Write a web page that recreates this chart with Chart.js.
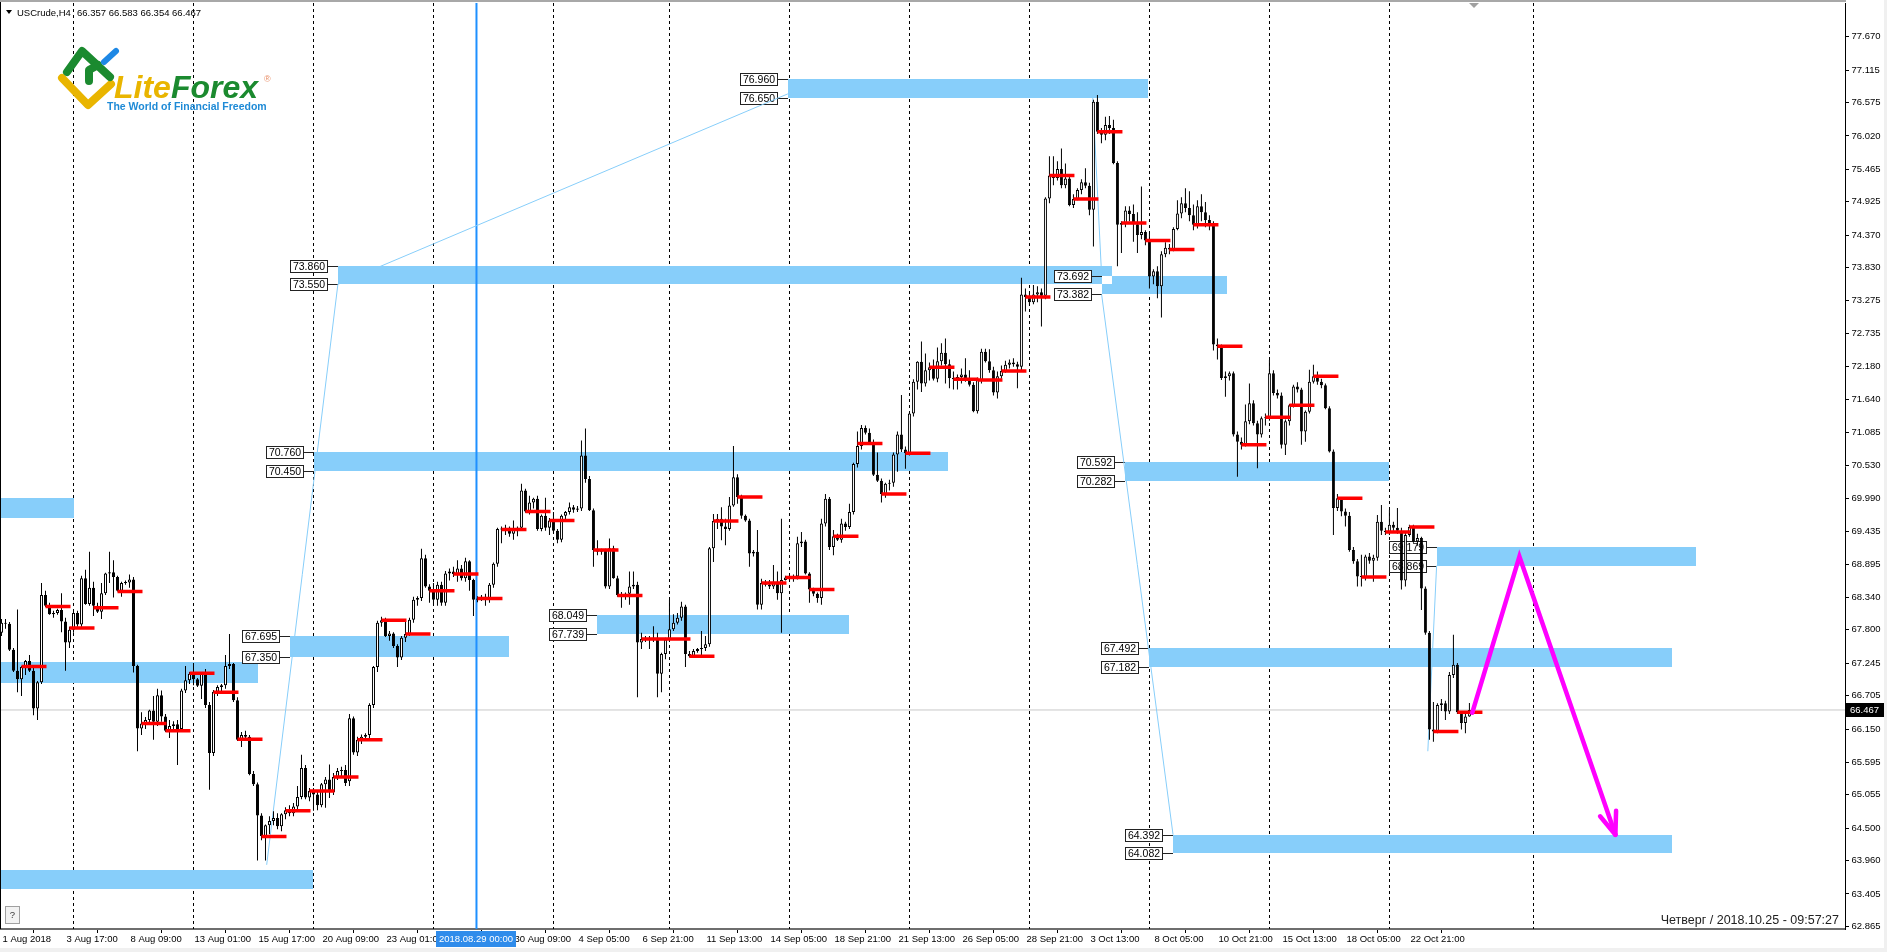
<!DOCTYPE html>
<html>
<head>
<meta charset="utf-8">
<title>USCrude,H4</title>
<script src="https://cdn.jsdelivr.net/npm/chart.js@4.4.1/dist/chart.umd.min.js"></script>
<style>
  html, body { margin: 0; padding: 0; background: #fff; overflow: hidden; }
  canvas { display: block; }
</style>
</head>
<body>
<canvas id="chart" width="1887" height="952"></canvas>
<script>
'use strict';

// H4 candles [open, high, low, close], bar 0 = 1 Aug 2018 01:00
var ohlc = [
  // 1 Aug - 3 Aug
  [67.75, 67.98, 67.70, 67.92], [67.92, 67.98, 67.82, 67.90], [67.90, 67.93, 67.45, 67.47], [67.47, 67.50, 67.10, 67.12], [67.12, 68.14, 66.76, 66.98], [66.98, 67.20, 66.70, 67.18],
  [67.18, 67.30, 67.05, 67.28], [67.28, 67.38, 67.10, 67.12], [67.12, 67.20, 66.38, 66.49], [66.49, 66.95, 66.30, 66.93], [66.93, 68.58, 66.90, 68.38], [68.38, 68.45, 68.18, 68.20],
  [68.20, 68.25, 68.05, 68.06], [68.06, 68.12, 68.00, 68.08], [68.08, 68.15, 68.05, 68.13], [68.13, 68.41, 67.76, 67.94], [67.94, 68.00, 67.12, 67.59], [67.59, 67.85, 67.50, 67.80],
  // 6 Aug - 10 Aug
  [67.80, 68.10, 67.75, 68.08], [68.08, 68.12, 67.85, 67.89], [67.89, 68.70, 67.85, 68.66], [68.66, 68.80, 68.22, 68.23], [68.23, 69.10, 68.20, 68.50], [68.50, 68.60, 68.03, 68.20],
  [68.20, 68.25, 68.08, 68.10], [68.10, 68.58, 67.98, 68.41], [68.41, 68.75, 68.38, 68.74], [68.74, 69.10, 68.58, 68.76], [68.76, 68.96, 68.34, 68.68], [68.68, 68.70, 68.44, 68.45],
  [68.45, 68.60, 68.35, 68.58], [68.58, 68.62, 68.55, 68.59], [68.59, 68.72, 68.50, 68.64], [68.64, 68.68, 67.09, 67.20], [67.20, 67.22, 65.78, 66.16], [66.16, 66.43, 66.05, 66.24],
  [66.24, 66.35, 66.15, 66.30], [66.30, 66.47, 66.25, 66.46], [66.46, 66.70, 65.97, 66.27], [66.27, 66.82, 66.20, 66.71], [66.71, 66.79, 66.27, 66.36], [66.36, 66.40, 66.10, 66.12],
  [66.12, 66.30, 66.00, 66.20], [66.20, 66.28, 66.15, 66.23], [66.23, 66.30, 65.55, 66.15], [66.15, 66.82, 66.10, 66.79], [66.79, 67.20, 66.75, 66.96], [66.96, 67.10, 66.90, 67.07],
  // 13 Aug - 17 Aug
  [67.07, 67.25, 66.88, 66.98], [66.98, 67.00, 66.85, 66.87], [66.87, 67.10, 66.65, 67.07], [67.07, 67.15, 66.50, 66.55], [66.55, 66.60, 65.14, 65.75], [65.75, 66.80, 65.70, 66.77],
  [66.77, 66.88, 66.70, 66.85], [66.85, 66.90, 66.78, 66.88], [66.88, 67.38, 66.82, 67.20], [67.20, 67.73, 67.15, 67.23], [67.23, 67.25, 66.60, 66.63], [66.63, 66.68, 65.95, 65.97],
  [65.97, 66.10, 65.85, 66.05], [66.05, 66.12, 65.98, 66.02], [66.02, 66.05, 65.38, 65.40], [65.40, 65.45, 65.20, 65.23], [65.23, 65.26, 63.96, 64.71], [64.71, 64.75, 64.30, 64.37],
  [64.37, 64.56, 63.96, 64.55], [64.55, 64.70, 64.40, 64.62], [64.62, 64.78, 64.55, 64.67], [64.67, 64.75, 64.48, 64.53], [64.53, 64.75, 64.45, 64.73], [64.73, 64.85, 64.65, 64.80],
  [64.80, 64.88, 64.70, 64.75], [64.75, 64.92, 64.70, 64.86], [64.86, 65.20, 64.80, 65.02], [65.02, 65.72, 64.98, 65.50], [65.50, 65.55, 64.98, 65.01], [65.01, 65.17, 64.95, 65.12],
  // 20 Aug - 24 Aug
  [65.12, 65.17, 64.79, 65.06], [65.06, 65.10, 64.80, 64.88], [64.88, 65.25, 64.85, 65.23], [65.23, 65.35, 64.84, 65.31], [65.31, 65.56, 65.00, 65.10], [65.10, 65.42, 65.05, 65.35],
  [65.35, 65.50, 65.30, 65.45], [65.45, 65.52, 65.34, 65.47], [65.47, 65.55, 65.20, 65.25], [65.28, 66.40, 65.20, 66.33], [66.33, 66.36, 65.72, 65.76], [65.76, 66.02, 65.70, 65.97],
  [65.97, 66.06, 65.90, 66.02], [66.02, 66.08, 65.96, 66.05], [66.05, 66.58, 66.00, 66.55], [66.55, 67.20, 66.50, 67.18], [67.18, 67.95, 67.10, 67.92], [67.92, 68.02, 67.85, 67.96],
  [67.96, 68.00, 67.68, 67.70], [67.70, 67.78, 67.62, 67.74], [67.74, 67.76, 67.50, 67.53], [67.53, 67.56, 67.18, 67.34], [67.34, 67.70, 67.30, 67.67], [67.67, 67.97, 67.60, 67.73],
  [67.73, 68.00, 67.70, 67.97], [67.97, 68.35, 67.92, 68.30], [68.30, 68.36, 68.20, 68.33], [68.33, 69.15, 68.28, 68.99], [68.99, 69.05, 68.50, 68.52], [68.52, 68.56, 68.25, 68.45],
  // 27 Aug - 31 Aug
  [68.45, 68.58, 68.22, 68.30], [68.30, 68.60, 68.20, 68.55], [68.55, 68.60, 68.20, 68.25], [68.25, 68.78, 68.20, 68.74], [68.74, 68.82, 68.62, 68.77], [68.77, 68.85, 68.68, 68.73],
  [68.73, 68.96, 68.60, 68.82], [68.82, 68.88, 68.62, 68.66], [68.66, 69.00, 68.60, 68.94], [68.94, 68.96, 68.45, 68.63], [68.63, 68.65, 68.03, 68.30], [68.30, 68.36, 68.26, 68.32],
  [68.32, 68.38, 68.28, 68.35], [68.35, 68.40, 68.20, 68.30], [68.30, 68.58, 68.25, 68.55], [68.55, 68.92, 68.50, 68.90], [68.90, 69.50, 68.85, 69.48], [69.48, 69.52, 69.24, 69.47],
  [69.47, 69.55, 69.38, 69.50], [69.50, 69.52, 69.35, 69.40], [69.40, 69.62, 69.30, 69.48], [69.48, 69.52, 69.36, 69.50], [69.50, 70.23, 69.45, 70.12], [70.12, 70.15, 69.75, 69.77],
  [69.77, 70.03, 69.72, 69.92], [69.92, 70.00, 69.82, 69.98], [69.98, 70.03, 69.45, 69.48], [69.48, 69.72, 69.44, 69.70], [69.70, 70.00, 69.45, 69.50], [69.50, 69.66, 69.38, 69.62],
  // 3 Sep - 7 Sep
  [69.62, 69.76, 69.42, 69.45], [69.45, 69.48, 69.24, 69.30], [69.30, 69.72, 69.26, 69.70], [69.70, 69.78, 69.62, 69.76], [69.76, 69.92, 69.72, 69.84],
  [69.84, 69.88, 69.75, 69.80], [69.80, 69.86, 69.76, 69.82], [69.82, 70.95, 69.78, 70.70], [70.70, 71.15, 70.25, 70.31], [70.31, 70.36, 69.78, 69.79], [69.79, 69.82, 68.85, 69.13],
  [69.13, 69.29, 69.04, 69.10], [69.10, 69.15, 69.05, 69.13], [69.13, 69.15, 68.49, 68.52], [68.52, 69.32, 68.48, 69.16], [69.16, 69.20, 68.65, 68.66], [68.66, 68.70, 68.35, 68.38],
  [68.38, 68.43, 68.17, 68.36], [68.36, 68.42, 68.30, 68.40], [68.40, 68.77, 68.22, 68.52], [68.52, 68.77, 68.48, 68.55], [68.55, 68.60, 66.68, 67.59], [67.59, 67.75, 67.48, 67.65],
  [67.65, 67.70, 67.60, 67.67], [67.67, 67.70, 67.48, 67.64], [67.64, 67.86, 67.60, 67.67], [67.67, 67.75, 66.68, 67.07], [67.07, 67.42, 66.76, 67.40], [67.40, 67.67, 67.31, 67.64],
  // 10 Sep - 14 Sep
  [67.64, 68.30, 67.60, 67.81], [67.81, 68.06, 67.78, 67.92], [67.92, 68.08, 67.89, 68.00], [68.00, 68.27, 67.95, 68.19], [68.19, 68.22, 67.18, 67.40], [67.40, 67.45, 67.34, 67.36],
  [67.36, 67.48, 67.34, 67.45], [67.45, 67.50, 67.42, 67.48], [67.48, 67.78, 67.34, 67.50], [67.50, 67.70, 67.45, 67.56], [67.56, 69.18, 67.52, 69.16], [69.16, 69.73, 68.93, 69.61],
  [69.61, 69.73, 69.48, 69.65], [69.65, 69.84, 69.29, 69.52], [69.52, 69.65, 69.21, 69.48], [69.48, 70.01, 69.45, 69.87], [69.87, 70.86, 69.85, 70.34], [70.34, 70.39, 69.90, 70.01],
  [70.01, 70.05, 69.65, 69.70], [69.70, 69.72, 69.60, 69.62], [69.62, 69.65, 68.85, 69.07], [69.07, 69.13, 69.02, 69.10], [69.10, 69.46, 68.14, 68.22], [68.22, 68.65, 68.14, 68.58],
  [68.58, 68.63, 68.52, 68.55], [68.55, 68.63, 68.48, 68.52], [68.52, 68.88, 68.48, 68.60], [68.60, 68.77, 68.30, 68.41], [68.41, 69.65, 67.75, 68.63], [68.63, 68.70, 68.62, 68.67],
  // 17 Sep - 21 Sep
  [68.67, 68.70, 68.62, 68.65], [68.65, 68.72, 68.60, 68.69], [68.69, 69.35, 68.64, 69.24], [69.24, 69.43, 69.18, 69.27], [69.27, 69.30, 68.72, 68.74], [68.74, 68.76, 68.25, 68.47],
  [68.47, 68.50, 68.36, 68.40], [68.40, 68.42, 68.25, 68.33], [68.33, 69.65, 68.22, 69.57], [69.57, 70.06, 69.52, 69.98], [69.98, 70.01, 69.13, 69.18], [69.18, 69.46, 69.04, 69.36],
  [69.36, 69.40, 69.28, 69.30], [69.30, 69.65, 69.25, 69.57], [69.57, 69.60, 69.45, 69.51], [69.51, 69.90, 69.48, 69.76], [69.76, 70.58, 69.72, 70.56], [70.56, 71.10, 70.50, 70.86],
  [70.86, 71.21, 70.80, 71.16], [71.16, 71.20, 71.05, 71.08], [71.08, 71.15, 70.88, 70.90], [70.90, 70.97, 70.36, 70.38], [70.38, 70.75, 70.26, 70.28], [70.28, 70.32, 69.92, 70.06],
  [70.06, 70.25, 70.00, 70.23], [70.23, 70.30, 70.12, 70.25], [70.25, 70.75, 70.18, 70.72], [70.72, 71.10, 70.43, 71.05], [71.05, 71.71, 70.76, 70.80], [70.80, 70.85, 70.48, 70.74],
  // 24 Sep - 28 Sep
  [70.74, 71.42, 70.70, 71.40], [71.40, 71.97, 71.35, 71.93], [71.93, 72.27, 71.80, 72.26], [72.26, 72.60, 71.76, 71.90], [71.90, 72.40, 71.85, 72.12], [72.12, 72.25, 71.95, 72.17],
  [72.17, 72.30, 71.95, 71.98], [71.98, 72.50, 71.92, 72.27], [72.27, 72.57, 72.20, 72.41], [72.41, 72.65, 71.90, 72.22], [72.22, 72.30, 71.82, 71.99], [71.99, 72.10, 71.80, 71.97],
  [71.97, 72.05, 71.80, 72.01], [72.01, 72.15, 71.90, 72.05], [72.05, 72.32, 71.93, 71.98], [71.98, 72.12, 71.85, 71.88], [71.88, 71.92, 71.42, 71.44], [71.44, 72.00, 71.40, 71.96],
  [71.96, 72.48, 71.90, 72.43], [72.43, 72.48, 72.25, 72.27], [72.27, 72.47, 72.08, 72.12], [72.12, 72.18, 71.70, 71.75], [71.75, 72.10, 71.65, 72.02], [72.02, 72.20, 71.98, 72.11],
  [72.11, 72.28, 72.08, 72.21], [72.21, 72.30, 72.15, 72.25], [72.25, 72.32, 72.18, 72.22], [72.22, 72.26, 71.82, 72.18], [72.18, 73.66, 72.10, 73.38], [73.38, 73.48, 73.10, 73.34],
  // 1 Oct - 5 Oct
  [73.34, 73.40, 73.20, 73.25], [73.25, 73.54, 73.22, 73.38], [73.38, 73.52, 73.25, 73.42], [73.42, 73.48, 72.85, 73.36], [73.36, 75.00, 73.30, 74.98], [74.98, 75.68, 74.90, 75.36],
  [75.36, 75.68, 75.20, 75.32], [75.32, 75.60, 75.28, 75.47], [75.47, 75.81, 75.15, 75.20], [75.20, 75.56, 75.15, 75.31], [75.31, 75.35, 74.85, 74.87], [74.87, 75.05, 74.82, 74.97],
  [74.97, 75.15, 74.95, 75.12], [75.12, 75.30, 75.05, 75.25], [75.25, 75.48, 75.15, 75.19], [75.19, 75.24, 74.70, 74.79], [74.79, 76.62, 74.18, 76.59], [76.59, 76.70, 76.05, 76.09],
  [76.09, 76.15, 75.90, 76.04], [76.04, 76.34, 75.95, 76.20], [76.20, 76.35, 76.05, 76.15], [76.15, 76.29, 75.55, 75.57], [75.57, 75.60, 73.85, 74.54], [74.54, 74.60, 74.07, 74.57],
  [74.57, 74.85, 74.50, 74.78], [74.78, 74.85, 74.60, 74.72], [74.72, 74.88, 74.26, 74.55], [74.55, 74.75, 74.07, 74.37], [74.37, 75.18, 74.30, 74.42], [74.42, 74.45, 74.20, 74.28],
  // 8 Oct - 12 Oct
  [74.28, 74.40, 73.48, 73.68], [73.68, 73.80, 73.55, 73.77], [73.77, 73.85, 73.32, 73.52], [73.52, 74.10, 73.00, 74.05], [74.05, 74.25, 74.00, 74.16], [74.16, 74.22, 74.05, 74.13],
  [74.13, 74.50, 74.10, 74.47], [74.47, 74.95, 74.45, 74.73], [74.73, 75.00, 74.65, 74.90], [74.90, 75.15, 74.75, 74.82], [74.82, 75.10, 74.60, 74.70], [74.70, 74.88, 74.45, 74.54],
  [74.54, 74.95, 74.48, 74.85], [74.85, 75.05, 74.60, 74.75], [74.75, 74.92, 74.50, 74.62], [74.62, 74.70, 74.45, 74.55], [74.55, 74.60, 72.45, 72.55], [72.55, 72.65, 72.30, 72.52],
  [72.52, 72.55, 71.96, 71.99], [71.99, 72.10, 71.68, 72.02], [72.02, 72.10, 71.95, 72.07], [72.07, 72.10, 71.02, 71.05], [71.05, 71.10, 70.35, 70.93], [70.93, 71.00, 70.80, 70.88],
  [70.88, 71.55, 70.85, 71.27], [71.27, 71.90, 71.22, 71.57], [71.57, 71.62, 71.20, 71.24], [71.24, 71.28, 70.49, 71.05], [71.05, 71.35, 71.00, 71.32], [71.32, 71.40, 71.20, 71.34],
  // 15 Oct - 19 Oct
  [71.34, 72.29, 71.28, 72.07], [72.07, 72.12, 71.70, 71.74], [71.74, 71.80, 71.65, 71.70], [71.70, 71.75, 70.82, 70.88], [70.88, 71.30, 70.71, 71.27], [71.27, 71.56, 71.20, 71.54],
  [71.54, 71.88, 71.50, 71.85], [71.85, 71.92, 71.75, 71.80], [71.80, 71.83, 70.88, 71.10], [71.10, 71.45, 70.93, 71.43], [71.43, 72.13, 71.40, 71.93], [71.93, 72.21, 71.90, 72.02],
  [72.02, 72.10, 71.88, 71.93], [71.93, 71.98, 71.82, 71.87], [71.87, 71.90, 71.47, 71.49], [71.49, 71.52, 70.75, 70.77], [70.77, 70.80, 69.38, 69.83], [69.83, 70.06, 69.78, 69.99],
  [69.99, 70.00, 69.69, 69.77], [69.77, 69.82, 69.52, 69.70], [69.70, 69.76, 69.10, 69.13], [69.13, 69.18, 68.90, 68.94], [68.94, 68.98, 68.52, 68.69], [68.69, 69.05, 68.52, 68.68],
  [68.68, 69.05, 68.62, 69.02], [69.02, 69.08, 68.90, 68.95], [68.95, 69.05, 68.60, 69.00], [69.00, 69.71, 68.95, 69.60], [69.60, 69.88, 69.38, 69.45], [69.45, 69.50, 69.38, 69.43],
  // 22 Oct - 25 Oct
  [69.43, 69.80, 69.38, 69.55], [69.55, 69.60, 69.45, 69.50], [69.50, 69.83, 69.40, 69.45], [69.45, 69.50, 68.47, 68.62], [68.62, 69.44, 68.52, 69.38], [69.38, 69.55, 69.35, 69.51],
  [69.51, 69.55, 69.25, 69.27], [69.27, 69.40, 69.20, 69.33], [69.33, 69.35, 68.13, 68.49], [68.49, 68.52, 67.72, 67.75], [67.75, 67.78, 65.97, 66.14], [66.14, 66.60, 65.94, 66.11],
  [66.11, 66.58, 66.08, 66.55], [66.55, 66.65, 66.45, 66.58], [66.58, 66.62, 66.30, 66.44], [66.44, 67.10, 66.40, 67.05], [67.05, 67.72, 67.00, 67.22], [67.22, 67.25, 66.40, 66.43],
  [66.43, 66.45, 66.14, 66.25], [66.25, 66.45, 66.08, 66.36], [66.357, 66.583, 66.354, 66.467]
];

// time axis
var dateTickBars = [0, 16, 32, 48, 64, 80, 96, 112, 128, 144, 160, 176, 192, 208, 224, 240, 256, 272, 288, 304, 320, 336, 352];
var dateLabels = ['1 Aug 2018', '3 Aug 17:00', '8 Aug 09:00', '13 Aug 01:00', '15 Aug 17:00', '20 Aug 09:00', '23 Aug 01:00',
  '27 Aug 17:00', '30 Aug 09:00', '4 Sep 05:00', '6 Sep 21:00', '11 Sep 13:00', '14 Sep 05:00', '18 Sep 21:00', '21 Sep 13:00',
  '26 Sep 05:00', '28 Sep 21:00', '3 Oct 13:00', '8 Oct 05:00', '10 Oct 21:00', '15 Oct 13:00', '18 Oct 05:00', '22 Oct 21:00'];
var weekStartBars = [18, 48, 78, 108, 138, 167, 197, 227, 257, 287, 317, 347, 383];

// price axis
var priceTicks = [77.670, 77.115, 76.575, 76.020, 75.465, 74.925, 74.370, 73.830, 73.275, 72.735, 72.180, 71.640, 71.085, 70.530,
  69.990, 69.435, 68.895, 68.340, 67.800, 67.245, 66.705, 66.150, 65.595, 65.055, 64.500, 63.960, 63.405, 62.865];

// daily close marks (red), drawn from the 21:00 bar across the next day
var closeMarkBars = [5, 11, 17, 23, 29, 35, 41, 47, 53, 59, 65, 71, 77, 83, 89, 95, 101, 107, 113, 119, 125, 131, 137,
  148, 154, 160, 166, 172, 178, 184, 190, 196, 202, 208, 214, 220, 226, 232, 238, 244, 250, 256, 262, 268, 274, 280, 286, 292,
  298, 304, 310, 316, 322, 328, 334, 340, 346, 352, 358, 364];
var closeMarkLevels = [67.19, 68.19, 67.83, 68.17, 68.44, 66.24, 66.12, 67.08, 66.76, 65.98, 64.36, 64.79, 65.12, 65.35, 65.97, 67.96,
  67.73, 68.45, 68.73, 68.32, 69.47, 69.77, 69.62,
  69.13, 68.37, 67.65, 67.65, 67.36, 69.61, 70.01, 68.58, 68.67, 68.47, 69.36, 70.90, 70.06, 70.74, 72.17, 71.97, 71.96, 72.11, 73.34,
  75.36, 74.97, 76.09, 74.57, 74.28, 74.13, 74.54, 72.52, 70.88, 71.34, 71.54, 72.02, 69.99, 68.68, 69.43, 69.51, 66.11, 66.43];

// supply / demand zones
var zoneTop = [76.960, 73.860, 70.760, 67.695, 68.049, 73.692, 70.592, 67.492, 64.392, 69.179, 69.99, 67.26, 63.81];
var zoneBottom = [76.650, 73.550, 70.450, 67.350, 67.739, 73.382, 70.282, 67.182, 64.082, 68.869, 69.66, 66.92, 63.48];
var zoneFrom = [196.6, 84.1, 78.1, 72.1, 148.95, 275.05, 280.9, 286.9, 292.9, 358.8, -1, -1, -1];
var zoneTo = [286.7, 277.55, 236.6, 127.0, 211.9, 306.5, 346.9, 417.7, 417.7, 423.6, 18.1, 64.05, 77.9];
var zoneLabeled = [true, true, true, true, true, true, true, true, true, true, false, false, false];

// thin connector lines
var linkFromBar = [66.3, 84.1, 272.8, 275.05, 356.6];
var linkFromPrice = [63.89, 73.55, 76.70, 73.382, 65.78];
var linkToBar = [84.1, 196.6, 275.05, 292.9, 358.8];
var linkToPrice = [73.55, 76.72, 73.692, 64.392, 68.869];

// forecast path
var arrowBars = [367.7, 379.5, 403.5];
var arrowPrices = [66.42, 69.02, 64.39];

var markerBar = 118.75;
var markerLabel = '2018.08.29 00:00';
var symbolName = 'USCrude,H4';
var serverTime = 'Четверг / 2018.10.25 - 09:57:27';

var xMin = -0.125, xMax = 460.9;
var yMin = 62.822, yMax = 78.232;
var FONT = '"Liberation Sans", Arial, sans-serif';

var lastBar = ohlc[ohlc.length - 1];
var lastPrice = lastBar[3];

Chart.defaults.font.family = FONT;
Chart.defaults.font.size = 9.5;
Chart.defaults.color = '#000';

// build datasets
var wickData = ohlc.map(function (c, i) { return { x: i, y: [c[2], c[1]] }; });
var bodyData = ohlc.map(function (c, i) { return { x: i, y: [c[0], c[3]] }; });
var bodyColors = ohlc.map(function (c) { return c[3] >= c[0] ? '#ffffff' : '#000000'; });

var markData = [];
closeMarkBars.forEach(function (b, k) {
  markData.push({ x: b, y: closeMarkLevels[k] });
  markData.push({ x: b + 6.25, y: closeMarkLevels[k] });
  markData.push({ x: b + 6.25, y: null });
});

var linkData = [];
linkFromBar.forEach(function (b, k) {
  linkData.push({ x: b, y: linkFromPrice[k] });
  linkData.push({ x: linkToBar[k], y: linkToPrice[k] });
  linkData.push({ x: linkToBar[k], y: null });
});

var arrowData = arrowBars.map(function (b, k) { return { x: b, y: arrowPrices[k] }; });

// zones, weekly separators and zone labels sit behind the candles
var backdrop = {
  id: 'backdrop',
  beforeDatasetsDraw: function (chart) {
    var c = chart.ctx, a = chart.chartArea;
    var xs = chart.scales.x, ys = chart.scales.y;
    c.save();
    c.beginPath();
    c.rect(a.left, a.top, a.right - a.left, a.bottom - a.top);
    c.clip();

    c.strokeStyle = '#000';
    c.lineWidth = 1;
    c.setLineDash([3, 3]);
    weekStartBars.forEach(function (b) {
      var x = Math.round(xs.getPixelForValue(b)) + 0.5;
      c.beginPath();
      c.moveTo(x, a.top);
      c.lineTo(x, a.bottom);
      c.stroke();
    });
    c.setLineDash([]);

    // xor so overlapping rectangles cancel like in the terminal
    var off = document.createElement('canvas');
    off.width = chart.width;
    off.height = chart.height;
    var o = off.getContext('2d');
    o.globalCompositeOperation = 'xor';
    o.fillStyle = '#87CEFA';
    for (var i = 0; i < zoneTop.length; i++) {
      var x1 = Math.round(xs.getPixelForValue(zoneFrom[i]));
      var x2 = Math.round(xs.getPixelForValue(zoneTo[i]));
      var y1 = Math.round(ys.getPixelForValue(zoneTop[i]));
      var y2 = Math.round(ys.getPixelForValue(zoneBottom[i]));
      o.fillRect(x1, y1, x2 - x1, y2 - y1);
    }
    c.drawImage(off, 0, 0);

    c.font = '10.5px ' + FONT;
    c.textAlign = 'center';
    c.textBaseline = 'middle';
    for (var j = 0; j < zoneTop.length; j++) {
      if (!zoneLabeled[j]) continue;
      var left = Math.round(xs.getPixelForValue(zoneFrom[j]));
      [zoneTop[j], zoneBottom[j]].forEach(function (v) {
        var y = Math.round(ys.getPixelForValue(v)) + 0.5;
        var bx = left - 10 - 38;
        c.fillStyle = '#fff';
        c.fillRect(bx, y - 6.5, 38, 13);
        c.strokeStyle = '#222';
        c.strokeRect(bx + 0.5, y - 6, 37, 12);
        c.beginPath();
        c.moveTo(bx + 38, y);
        c.lineTo(left, y);
        c.stroke();
        c.fillStyle = '#000';
        c.fillText(v.toFixed(3), bx + 19, y + 0.5);
      });
    }
    c.restore();
  }
};

function drawLogo(c) {
  c.save();
  c.lineCap = 'round';
  c.lineJoin = 'round';
  c.lineWidth = 8;
  c.strokeStyle = '#E9B500';
  c.beginPath(); c.moveTo(62, 78); c.lineTo(88, 105); c.lineTo(111, 84); c.stroke();
  c.strokeStyle = '#1B8A2F';
  c.beginPath(); c.moveTo(67, 72); c.lineTo(82, 51); c.lineTo(110, 77); c.stroke();
  c.beginPath(); c.moveTo(89, 81); c.lineTo(89, 70); c.lineTo(98, 65); c.stroke();
  c.strokeStyle = '#1E88E5';
  c.lineWidth = 6;
  c.beginPath(); c.moveTo(104, 62); c.lineTo(116, 51); c.stroke();

  c.textAlign = 'left';
  c.textBaseline = 'alphabetic';
  c.font = 'italic bold 32px ' + FONT;
  c.fillStyle = '#E9B500';
  c.fillText('Lite', 114, 98);
  var w = c.measureText('Lite').width;
  c.fillStyle = '#1B8A2F';
  c.fillText('Forex', 114 + w, 98);
  c.font = '9px ' + FONT;
  c.fillStyle = '#E8906A';
  c.fillText('®', 264, 82);
  c.font = 'bold 10.5px ' + FONT;
  c.fillStyle = '#1E8AD6';
  c.fillText('The World of Financial Freedom', 107, 110);
  c.restore();
}

var overlay = {
  id: 'overlay',
  afterDraw: function (chart) {
    var c = chart.ctx, a = chart.chartArea;
    var xs = chart.scales.x, ys = chart.scales.y;
    c.save();

    // arrow head at the end of the forecast path
    var n = arrowBars.length;
    var tx = xs.getPixelForValue(arrowBars[n - 1]), ty = ys.getPixelForValue(arrowPrices[n - 1]);
    var fx = xs.getPixelForValue(arrowBars[n - 2]), fy = ys.getPixelForValue(arrowPrices[n - 2]);
    var ang = Math.atan2(ty - fy, tx - fx);
    c.strokeStyle = '#FF00FF';
    c.lineWidth = 4.5;
    c.lineCap = 'round';
    [-0.36, 0.36].forEach(function (d) {
      c.beginPath();
      c.moveTo(tx, ty);
      c.lineTo(tx - 24 * Math.cos(ang + d), ty - 24 * Math.sin(ang + d));
      c.stroke();
    });

    // frame
    c.fillStyle = '#A8A8A8';
    c.fillRect(0, 0, a.right + 1, 2);
    c.fillStyle = '#000';
    c.fillRect(0, 2, 1, a.bottom - 2);
    c.fillStyle = '#F0F0F0';
    c.fillRect(0, 948, chart.width, 4);
    c.fillRect(1884, 0, 3, chart.height);

    // chart shift mark
    c.fillStyle = '#A0A0A0';
    c.beginPath(); c.moveTo(1469, 3); c.lineTo(1479, 3); c.lineTo(1474, 8); c.fill();

    // header
    c.fillStyle = '#000';
    c.beginPath(); c.moveTo(6, 10); c.lineTo(12, 10); c.lineTo(9, 14); c.fill();
    c.font = '9.5px ' + FONT;
    c.textAlign = 'left';
    c.textBaseline = 'middle';
    c.fillText(symbolName, 17, 13);
    c.fillText(lastBar.map(function (v) { return v.toFixed(3); }).join(' '), 77, 13);

    drawLogo(c);

    // help button
    c.fillStyle = '#F2F2F2';
    c.fillRect(5, 906, 15, 18);
    c.strokeStyle = '#A0A0A0';
    c.lineWidth = 1;
    c.strokeRect(5.5, 906.5, 14, 17);
    c.fillStyle = '#333';
    c.textAlign = 'center';
    c.textBaseline = 'middle';
    c.font = '9.5px ' + FONT;
    c.fillText('?', 12.5, 915.5);

    // server time
    c.font = '12.5px ' + FONT;
    c.textAlign = 'right';
    c.fillStyle = '#222';
    c.fillText(serverTime, a.right - 6, 921);

    // last price tag
    var py = Math.round(ys.getPixelForValue(lastPrice));
    c.fillStyle = '#000';
    c.fillRect(a.right + 1, py - 7, 38, 14);
    c.fillStyle = '#fff';
    c.textAlign = 'left';
    c.font = '9.5px ' + FONT;
    c.fillText(lastPrice.toFixed(3), a.right + 5, py + 0.5);

    // vertical line date tag
    var mx = Math.round(xs.getPixelForValue(markerBar));
    c.fillStyle = '#2F8CEB';
    c.fillRect(mx - 40, a.bottom + 2, 80, 16);
    c.fillStyle = '#fff';
    c.textAlign = 'center';
    c.fillText(markerLabel, mx, a.bottom + 10.5);

    c.restore();
  }
};

var chart = new Chart(document.getElementById('chart').getContext('2d'), {
  type: 'bar',
  data: {
    datasets: [
      {
        type: 'line', label: 'forecast', data: arrowData, order: 0,
        borderColor: '#FF00FF', borderWidth: 4.5, pointRadius: 0, tension: 0,
        borderCapStyle: 'round', borderJoinStyle: 'miter'
      },
      {
        type: 'line', label: 'daily close', data: markData, order: 1,
        borderColor: '#FF0000', borderWidth: 3.5, pointRadius: 0, spanGaps: false
      },
      {
        type: 'bar', label: 'bodies', data: bodyData, order: 2,
        backgroundColor: bodyColors, borderColor: '#000', borderWidth: 1, borderSkipped: false,
        barThickness: 3, minBarLength: 1, grouped: false, inflateAmount: 0
      },
      {
        type: 'bar', label: 'wicks', data: wickData, order: 3,
        backgroundColor: '#000', barThickness: 1, minBarLength: 1, grouped: false, inflateAmount: 0
      },
      {
        type: 'line', label: 'links', data: linkData, order: 4,
        borderColor: '#87CEFA', borderWidth: 1, pointRadius: 0, spanGaps: false
      },
      {
        type: 'line', label: 'marker', data: [{ x: markerBar, y: yMin }, { x: markerBar, y: yMax }], order: 5,
        borderColor: '#1E90FF', borderWidth: 2, pointRadius: 0
      },
      {
        type: 'line', label: 'last', data: [{ x: xMin, y: lastPrice }, { x: xMax, y: lastPrice }], order: 6,
        borderColor: '#C8C8C8', borderWidth: 1, pointRadius: 0
      }
    ]
  },
  options: {
    responsive: false,
    animation: false,
    devicePixelRatio: 1,
    events: [],
    layout: { padding: { left: 1, top: 3, right: 0, bottom: 0 } },
    plugins: { legend: { display: false }, tooltip: { enabled: false } },
    scales: {
      x: {
        type: 'linear', position: 'bottom', min: xMin, max: xMax, offset: false,
        grid: { display: true, drawOnChartArea: false, drawTicks: true, tickLength: 4, color: '#000' },
        border: { display: true, color: '#6E6E6E', width: 2 },
        ticks: {
          autoSkip: false, maxRotation: 0, minRotation: 0, align: 'start', padding: 1, labelOffset: 1,
          callback: function (value, index) { return dateLabels[index]; }
        },
        afterBuildTicks: function (scale) {
          scale.ticks = dateTickBars.map(function (v) { return { value: v }; });
        },
        afterFit: function (scale) {
          scale.height = 23;
          scale.paddingLeft = 0;
          scale.paddingRight = 0;
        }
      },
      y: {
        type: 'linear', position: 'right', min: yMin, max: yMax,
        grid: { display: true, drawOnChartArea: false, drawTicks: true, tickLength: 4, color: '#000' },
        border: { display: true, color: '#000', width: 1 },
        ticks: {
          autoSkip: false, padding: 2.5,
          callback: function (value) { return Number(value).toFixed(3); }
        },
        afterBuildTicks: function (scale) {
          scale.ticks = priceTicks.map(function (v) { return { value: v }; });
        },
        afterFit: function (scale) {
          scale.width = 42;
          scale.paddingTop = 0;
          scale.paddingBottom = 0;
        }
      }
    }
  },
  plugins: [backdrop, overlay]
});
</script>
</body>
</html>
